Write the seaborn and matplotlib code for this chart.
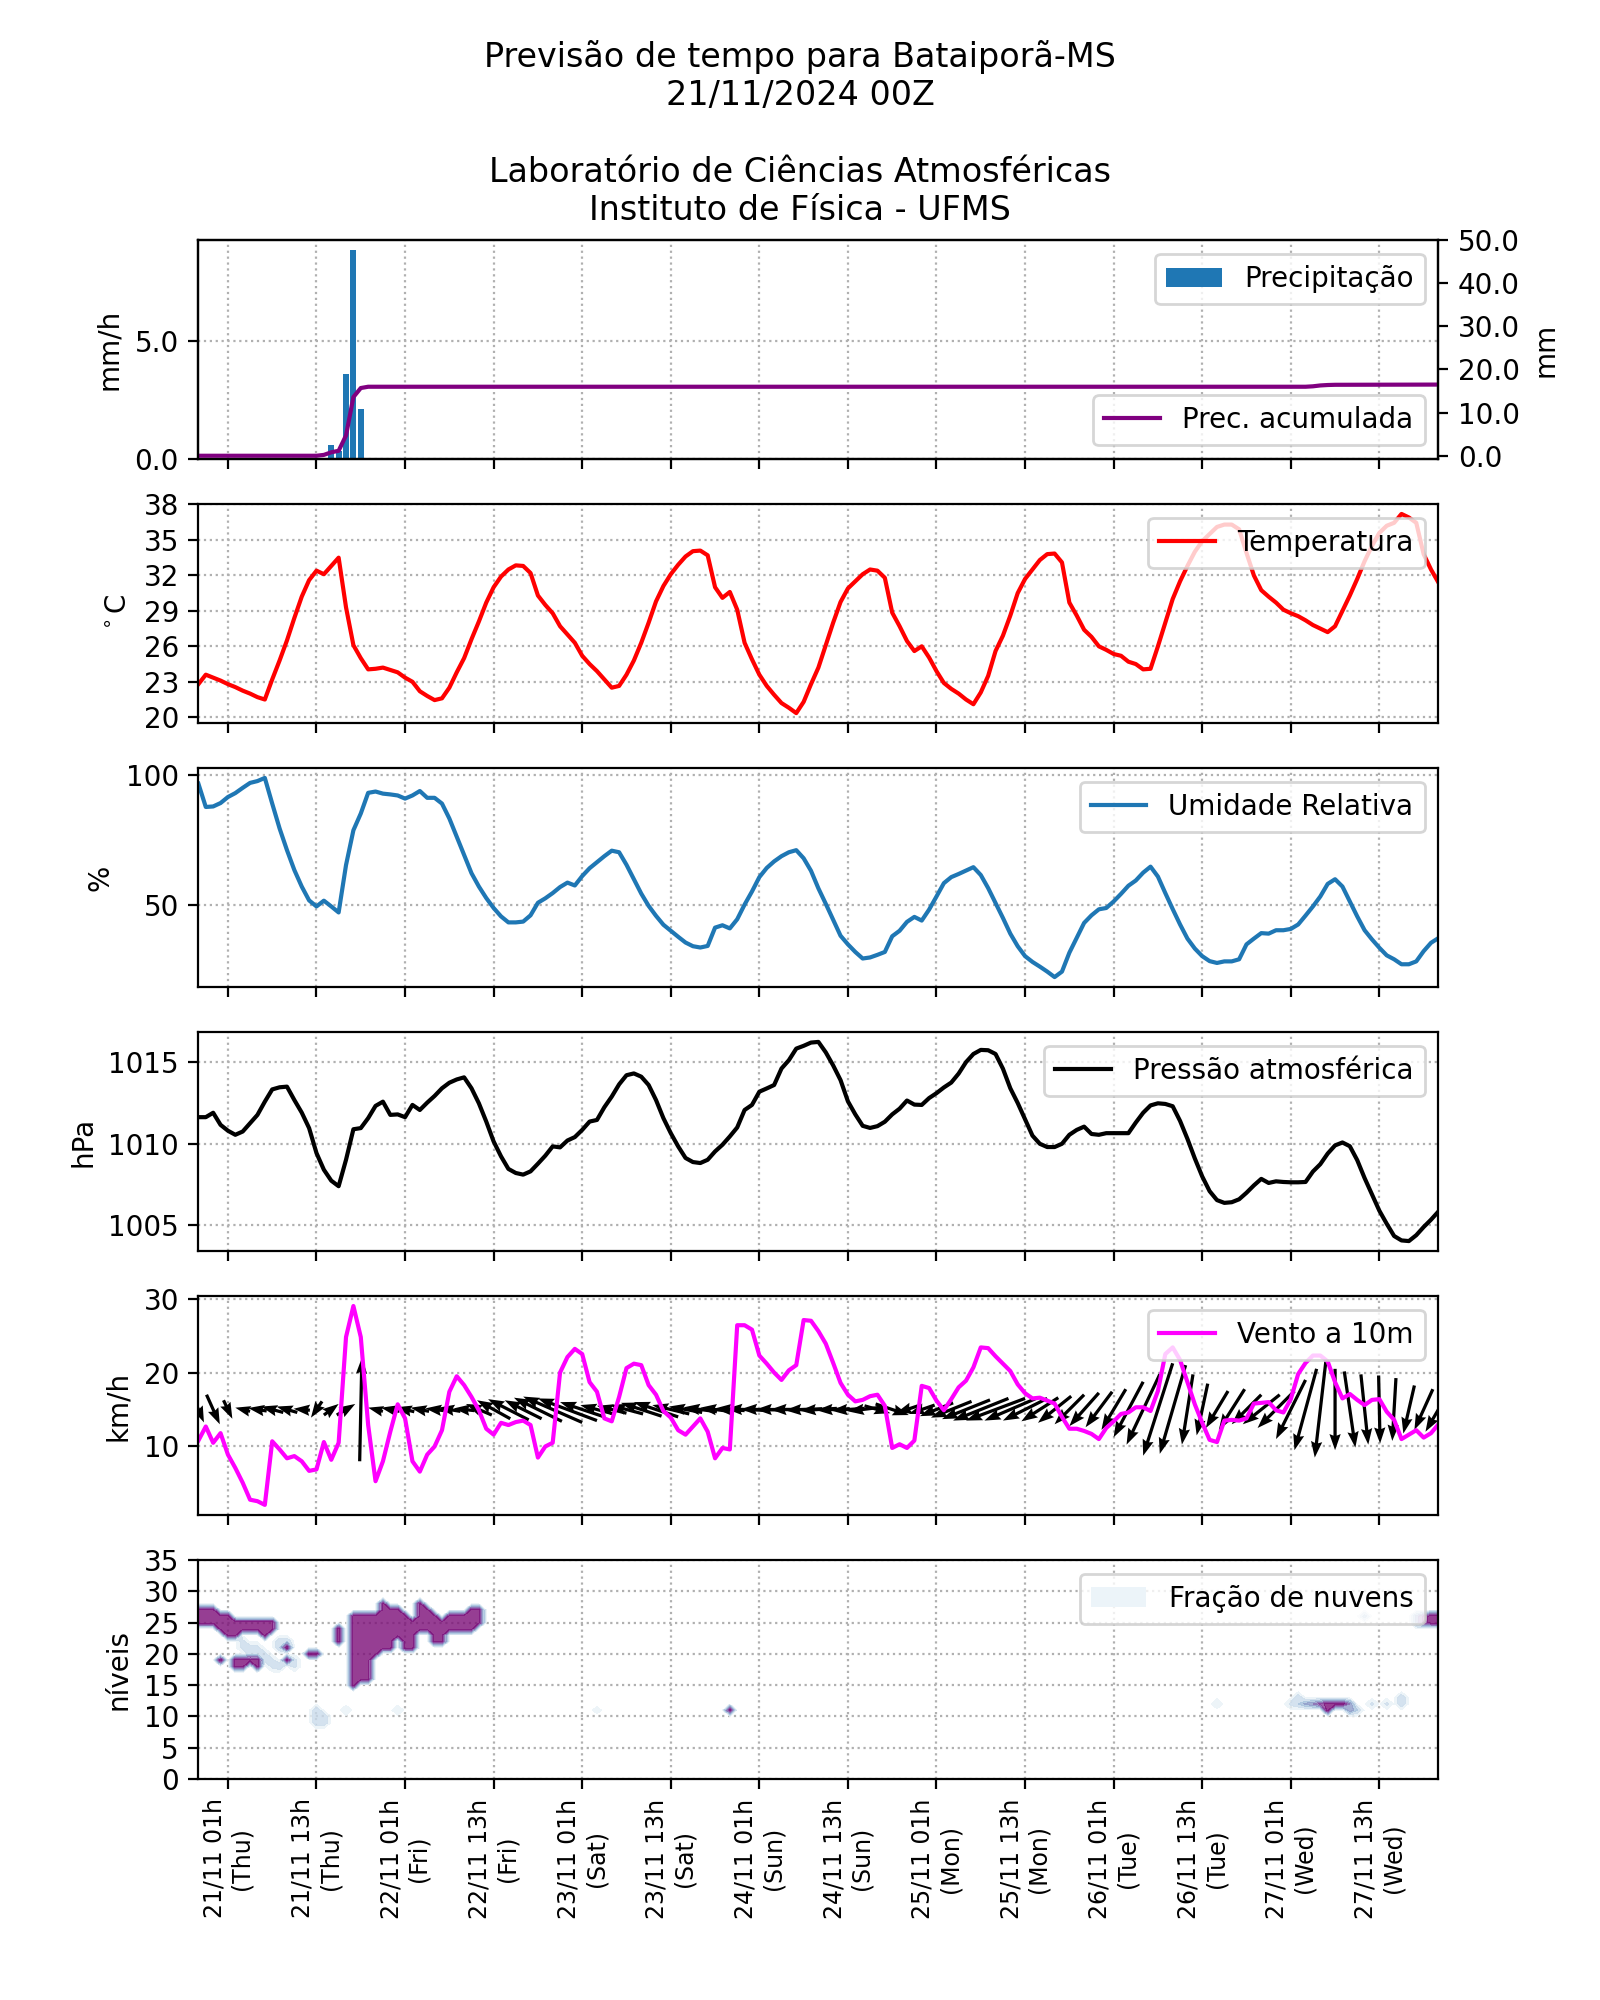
import numpy as np
import matplotlib
matplotlib.use("Agg")
import matplotlib.pyplot as plt
from matplotlib.ticker import MultipleLocator, FormatStrFormatter, FixedLocator
from matplotlib.patches import Patch
import seaborn as sns

# ---------------- data (hours since 20/11 21h local) ----------------
horas = np.arange(0, 169)

prec_horas = [17, 18, 19, 20, 21, 22]
prec_valores = [0.05, 0.6, 0.35, 3.6, 8.8, 2.1]

prec_acum_horas = [0, 16, 17, 18, 19, 20, 21, 22, 23, 150, 151, 152, 153, 154, 168]
prec_acum_valores = [0.0, 0.0, 0.2, 0.8, 1.15, 4.7, 13.6, 15.7, 16.0, 16.0, 16.1, 16.3, 16.4, 16.45, 16.5]

temperatura = [22.8, 23.6, 23.35, 23.1, 22.8, 22.55, 22.25, 22.0, 21.7, 21.5,
               23.2, 24.8, 26.5, 28.4, 30.2, 31.6, 32.4, 32.1, 32.8, 33.5,
               29.3, 26.1, 25.0, 24.05, 24.1, 24.2, 24.0, 23.8, 23.35, 23.0,
               22.2, 21.8, 21.45, 21.6, 22.5, 23.8, 25.0, 26.6, 28.1, 29.7,
               31.0, 31.9, 32.5, 32.85, 32.8, 32.2, 30.3, 29.5, 28.8, 27.7,
               27.0, 26.3, 25.2, 24.5, 23.9, 23.2, 22.5, 22.65, 23.6, 24.8,
               26.3, 28.0, 29.8, 31.1, 32.1, 32.9, 33.6, 34.05, 34.1, 33.7,
               31.0, 30.1, 30.6, 29.1, 26.3, 24.9, 23.6, 22.65, 21.9, 21.2,
               20.8, 20.35, 21.3, 22.8, 24.2, 26.1, 28.0, 29.75, 30.9, 31.5,
               32.1, 32.5, 32.4, 31.8, 28.85, 27.7, 26.45, 25.6, 26.0, 25.05,
               23.9, 22.9, 22.4, 22.0, 21.5, 21.1, 22.1, 23.5, 25.6, 26.9,
               28.6, 30.5, 31.7, 32.5, 33.3, 33.8, 33.85, 33.1, 29.7, 28.6,
               27.4, 26.8, 26.0, 25.7, 25.35, 25.2, 24.7, 24.5, 24.05, 24.1,
               26.0, 28.0, 30.0, 31.5, 32.8, 34.0, 34.9, 35.5, 36.1, 36.3,
               36.3, 35.9, 33.9, 32.0, 30.75, 30.2, 29.7, 29.1, 28.8, 28.55,
               28.2, 27.8, 27.5, 27.2, 27.7, 29.0, 30.3, 31.7, 33.2, 34.5,
               35.6, 36.2, 36.45, 37.2, 36.9, 36.45, 33.8, 32.5, 31.4]

umidade = [96.5, 87.6, 87.8, 89.1, 91.4, 92.9, 94.9, 96.8, 97.5, 98.7,
           88.9, 79.4, 71.1, 63.5, 57.2, 51.9, 49.6, 51.8, 49.6, 47.3,
           65.4, 78.7, 85.1, 93.0, 93.5, 92.7, 92.4, 92.0, 90.8, 92.0,
           93.7, 91.1, 91.1, 88.9, 83.2, 76.2, 69.2, 62.3, 57.2, 52.8,
           49.0, 45.8, 43.5, 43.5, 43.8, 46.2, 51.0, 52.7, 54.7, 57.0,
           58.7, 57.6, 61.2, 64.2, 66.5, 68.8, 70.9, 70.3, 65.5, 60.0,
           54.5, 49.8, 46.0, 42.6, 40.3, 38.0, 35.8, 34.4, 33.9, 34.5,
           41.5, 42.4, 41.2, 44.7, 50.3, 55.3, 60.8, 64.3, 66.8, 68.8,
           70.3, 71.1, 68.0, 63.2, 56.5, 50.6, 44.5, 38.4, 35.1, 32.2,
           29.7, 30.1, 31.1, 32.2, 38.2, 40.3, 43.7, 45.6, 44.2, 48.4,
           53.4, 58.5, 60.8, 62.0, 63.3, 64.6, 61.6, 56.6, 50.9, 45.2,
           39.2, 34.4, 30.6, 28.4, 26.6, 24.7, 22.6, 24.7, 31.9, 37.6,
           43.3, 46.2, 48.5, 49.0, 51.5, 54.4, 57.5, 59.5, 62.5, 64.8,
           61.0, 54.7, 48.6, 42.7, 37.3, 33.5, 30.6, 28.7, 28.0, 28.6,
           28.6, 29.4, 35.1, 37.3, 39.4, 39.2, 40.5, 40.5, 41.0, 42.7,
           46.1, 49.6, 53.4, 58.2, 60.0, 57.2, 51.5, 45.8, 40.5, 37.0,
           33.8, 30.9, 29.4, 27.5, 27.5, 28.6, 32.5, 35.7, 37.5]

pressao = [1011.63, 1011.63, 1011.9, 1011.16, 1010.8, 1010.55, 1010.75, 1011.26, 1011.77, 1012.58,
           1013.33, 1013.46, 1013.5, 1012.68, 1011.91, 1010.96, 1009.43, 1008.41, 1007.74, 1007.4,
           1009.02, 1010.89, 1010.96, 1011.57, 1012.32, 1012.58, 1011.77, 1011.8, 1011.63, 1012.38,
           1012.07, 1012.52, 1012.93, 1013.4, 1013.74, 1013.94, 1014.07, 1013.4, 1012.48, 1011.36,
           1010.14, 1009.23, 1008.46, 1008.21, 1008.11, 1008.31, 1008.78, 1009.27, 1009.84, 1009.78,
           1010.2, 1010.41, 1010.85, 1011.36, 1011.46, 1012.24, 1012.89, 1013.64, 1014.2, 1014.31,
           1014.11, 1013.6, 1012.68, 1011.57, 1010.65, 1009.84, 1009.13, 1008.88, 1008.82, 1009.02,
           1009.53, 1009.94, 1010.45, 1011.0, 1012.07, 1012.38, 1013.19, 1013.39, 1013.6, 1014.61,
           1015.12, 1015.83, 1016.0, 1016.2, 1016.24, 1015.6, 1014.8, 1013.9, 1012.6, 1011.8,
           1011.1, 1010.97, 1011.08, 1011.35, 1011.8, 1012.15, 1012.65, 1012.4, 1012.38, 1012.8,
           1013.1, 1013.45, 1013.75, 1014.3, 1015.0, 1015.5, 1015.75, 1015.73, 1015.5, 1014.6,
           1013.4, 1012.5, 1011.5, 1010.5, 1010.0, 1009.8, 1009.8, 1010.0, 1010.55, 1010.85,
           1011.05, 1010.6, 1010.55, 1010.65, 1010.65, 1010.65, 1010.65, 1011.3, 1011.9, 1012.35,
           1012.48, 1012.44, 1012.3, 1011.4, 1010.3, 1009.1, 1008.0, 1007.1, 1006.55, 1006.38,
           1006.42, 1006.6, 1007.0, 1007.45, 1007.85, 1007.6, 1007.7, 1007.66, 1007.64, 1007.64,
           1007.66, 1008.3, 1008.75, 1009.4, 1009.9, 1010.08, 1009.85, 1009.0, 1007.9, 1006.9,
           1005.9, 1005.1, 1004.35, 1004.08, 1004.04, 1004.4, 1004.9, 1005.35, 1005.85]

vento = [10.8, 12.7, 10.5, 11.8, 8.9, 7.1, 5.1, 2.8, 2.6, 2.1,
         10.7, 9.6, 8.4, 8.7, 8.0, 6.7, 6.9, 10.6, 8.2, 10.5,
         24.8, 29.0, 24.8, 12.9, 5.3, 8.0, 12.0, 15.7, 13.8, 8.0,
         6.6, 8.9, 10.0, 12.2, 17.4, 19.5, 18.3, 16.7, 14.9, 12.4,
         11.6, 13.2, 12.9, 13.3, 13.5, 12.9, 8.5, 10.0, 10.5, 20.0,
         22.1, 23.2, 22.5, 18.7, 17.4, 13.8, 13.4, 16.7, 20.6, 21.2,
         21.0, 18.3, 17.0, 14.8, 13.9, 12.2, 11.6, 12.7, 13.8, 12.0,
         8.4, 9.8, 9.6, 26.4, 26.4, 25.8, 22.3, 21.2, 20.0, 19.0,
         20.3, 21.0, 27.1, 27.0, 25.6, 23.9, 21.3, 18.6, 17.0, 16.1,
         16.3, 16.8, 17.0, 15.5, 9.8, 10.3, 9.8, 10.8, 18.2, 17.9,
         16.2, 14.9, 16.4, 18.0, 18.9, 20.7, 23.4, 23.3, 22.2, 21.2,
         20.2, 18.4, 17.2, 16.5, 16.6, 16.2, 15.8, 14.0, 12.4, 12.4,
         12.1, 11.7, 11.0, 12.5, 13.4, 14.4, 14.6, 15.3, 15.3, 14.8,
         17.5, 22.5, 23.4, 21.7, 18.7, 15.7, 13.2, 10.9, 10.6, 13.5,
         13.6, 13.5, 13.8, 15.8, 15.9, 16.0, 14.9, 14.6, 16.4, 19.8,
         21.3, 22.3, 22.3, 21.5, 18.7, 16.5, 17.1, 16.3, 15.6, 16.3,
         16.4, 14.7, 13.6, 11.0, 11.6, 12.2, 11.2, 11.8, 13.0]

vento_u = [1.5, 2.0, 1.8, 1.4, 1.2, -1.5, -2.0, -2.2, -2.5, -2.8,
           -3.0, -3.0, -2.8, -2.5, -2.2, -2.0, -1.5, -1.0, 2.0, 2.5,
           2.5, 1.5, 0.3, -0.3, -2.0, -2.5, -2.5, -2.5, -2.5, -2.0,
           -2.5, -2.5, -2.5, -2.8, -3.0, -3.0, -2.8, -2.5, -3.5, -4.0,
           -4.5, -5.0, -5.5, -6.0, -5.0, -6.0, -6.5, -7.0, -8.0, -9.0,
           -8.0, -7.0, -6.0, -5.0, -4.5, -4.0, -4.0, -4.0, -4.5, -5.0,
           -5.5, -6.0, -6.0, -5.5, -5.0, -5.0, -4.5, -4.5, -4.5, -4.0,
           -4.0, -4.0, -4.0, -4.5, -5.0, -5.0, -5.0, -5.0, -5.0, -5.0,
           -5.0, -5.0, -5.0, -5.0, -5.0, -4.8, -4.5, -4.5, -4.5, -4.5,
           -4.0, -4.0, 3.5, 4.0, 4.5, 4.0, -3.0, -3.0, -3.5, -4.0,
           -4.5, -5.0, -5.5, -6.0, -6.5, -7.0, -7.5, -8.0, -8.0, -7.5,
           -7.0, -6.5, -6.0, -5.5, -5.0, -4.5, -4.5, -4.5, -4.0, -4.0,
           -4.0, -3.8, -3.6, -3.5, -3.3, -3.5, -4.0, -4.5, -4.5, -4.5,
           -4.0, -4.0, -3.5, -2.5, -1.5, -1.0, -1.5, -2.5, -3.0, -3.5,
           -3.5, -3.5, -4.0, -4.5, -5.0, -5.0, -5.0, -4.5, -4.0, -3.5,
           -3.0, -2.0, -1.5, -1.0, 0.0, 0.7, 1.5, 1.5, 1.0, 0.5,
           0.2, 0.0, -0.5, -1.0, -1.5, -2.0, -2.5, -3.0, -3.5]

vento_v = [-3.5, -4.5, -4.0, -3.0, -2.5, 0.8, 0.5, 0.3, 0.4, 0.6,
           0.8, 1.0, 0.8, 0.5, 0.2, 0.0, -2.2, -1.5, 1.5, 2.0,
           1.5, 2.5, 14.0, -2.7, 0.5, 0.3, 0.5, 0.8, 0.6, 0.3,
           0.5, 0.3, 0.3, 0.4, 0.5, 0.5, 0.3, 0.2, 1.5, 2.0,
           2.5, 2.5, 2.8, 3.0, 2.5, 3.0, 3.2, 3.5, 3.5, 3.8,
           3.0, 2.5, 2.0, 1.5, 1.2, 1.0, 1.0, 1.0, 1.2, 1.5,
           1.8, 2.0, 2.0, 1.5, 1.2, 1.0, 0.8, 0.8, 0.6, 0.5,
           0.5, 0.4, 0.3, 0.2, 0.2, 0.2, 0.1, 0.1, 0.0, 0.0,
           0.0, 0.0, -0.2, -0.3, -0.3, -0.2, -0.2, -0.2, -0.3, -0.5,
           -0.5, -0.8, -1.0, -1.2, -1.5, -1.5, -1.0, -1.0, -1.2, -1.5,
           -1.8, -2.0, -2.2, -2.4, -2.6, -2.8, -3.0, -3.0, -3.0, -3.0,
           -3.0, -3.0, -3.0, -3.0, -3.2, -3.4, -3.6, -3.8, -4.0, -4.2,
           -4.5, -4.6, -4.8, -5.0, -5.5, -6.5, -7.5, -8.5, -9.5, -11.0,
           -12.5, -13.5, -12.0, -10.5, -9.5, -8.5, -7.0, -6.0, -5.0, -5.5,
           -5.5, -5.0, -4.0, -4.0, -4.0, -4.5, -5.0, -6.0, -8.0, -10.0,
           -11.0, -12.0, -13.0, -13.0, -11.0, -10.5, -10.3, -10.0, -9.5, -9.2,
           -9.2, -9.0, -8.5, -8.0, -6.5, -5.8, -5.5, -5.5, -6.0]

# cloud fraction: (hour, lowest level, highest level, fraction)
nuvem_hora = [0, 1, 2, 3, 4, 5, 6, 7, 8, 9, 10,
              3, 5, 6, 7, 8, 12, 12, 15, 16,
              6, 7, 8, 9, 10, 11, 11, 12, 13,
              16, 17, 20, 27, 54, 72,
              19, 21, 22, 23, 24, 25, 26, 27, 28, 29,
              30, 31, 32, 33, 34, 35, 36, 37, 38,
              138, 148, 149, 150, 151, 152, 153, 154, 155, 156, 157, 159, 161, 163,
              158, 165, 166, 167, 168]
nuvem_nivel_ini = [25, 25, 25, 24, 23, 23, 24, 24, 24, 23, 24,
                   19, 18, 18, 19, 18, 21, 19, 20, 20,
                   21, 20, 20, 19, 18, 21, 18, 22, 18,
                   9, 9, 11, 11, 11, 11,
                   22, 15, 16, 16, 20, 21, 21, 23, 21, 21,
                   24, 24, 22, 22, 24, 24, 24, 24, 25,
                   12, 12, 12, 12, 12, 12, 11, 12, 12, 11, 11, 12, 12, 12,
                   26, 25, 25, 25, 25]
nuvem_nivel_fim = [27, 27, 27, 26, 26, 25, 25, 25, 25, 25, 25,
                   19, 19, 19, 19, 19, 21, 19, 20, 20,
                   22, 21, 21, 20, 19, 22, 18, 22, 19,
                   11, 10, 11, 11, 11, 11,
                   24, 26, 26, 26, 26, 28, 27, 27, 26, 25,
                   28, 27, 26, 25, 26, 26, 26, 27, 27,
                   12, 12, 13, 12, 12, 12, 12, 12, 12, 12, 11, 12, 12, 13,
                   26, 26, 26, 26, 26]
nuvem_frac = [1.0, 1.0, 1.0, 1.0, 1.0, 1.0, 1.0, 1.0, 1.0, 1.0, 1.0,
              1.0, 1.0, 1.0, 1.0, 1.0, 1.0, 1.0, 1.0, 1.0,
              0.2, 0.25, 0.2, 0.2, 0.2, 0.3, 0.3, 0.3, 0.2,
              0.3, 0.3, 0.1, 0.1, 0.05, 1.0,
              1.0, 1.0, 1.0, 1.0, 1.0, 1.0, 1.0, 1.0, 1.0, 1.0,
              1.0, 1.0, 1.0, 1.0, 1.0, 1.0, 1.0, 1.0, 1.0,
              0.1, 0.2, 0.3, 0.5, 0.6, 0.8, 1.0, 1.0, 1.0, 0.6, 0.3, 0.2, 0.2, 0.3,
              0.4, 0.5, 0.8, 1.0, 1.0]
niveis = np.arange(0, 36)

xticks_horas = [4, 16, 28, 40, 52, 64, 76, 88, 100, 112, 124, 136, 148, 160]
xticks_rotulos = ['21/11 01h\n(Thu)', '21/11 13h\n(Thu)', '22/11 01h\n(Fri)', '22/11 13h\n(Fri)',
                  '23/11 01h\n(Sat)', '23/11 13h\n(Sat)', '24/11 01h\n(Sun)', '24/11 13h\n(Sun)',
                  '25/11 01h\n(Mon)', '25/11 13h\n(Mon)', '26/11 01h\n(Tue)', '26/11 13h\n(Tue)',
                  '27/11 01h\n(Wed)', '27/11 13h\n(Wed)']

titulo = ("Previsão de tempo para Bataiporã-MS\n21/11/2024 00Z\n\n"
          "Laboratório de Ciências Atmosféricas\nInstituto de Física - UFMS")

# ---------------- figure ----------------
plt.rcParams['font.family'] = ['DejaVu Sans']
fig, axes = plt.subplots(6, 1, figsize=(8, 10), dpi=200, sharex=True)
fig.subplots_adjust(left=0.124, right=0.899, top=0.88, bottom=0.1105, hspace=0.205)
fig.suptitle(titulo, fontsize=12, y=0.980, va='top')

grid_kw = dict(linestyle=':', color='#b0b0b0', linewidth=0.8)

# panel 1: precipitation
ax = axes[0]
ax.bar(prec_horas, prec_valores, width=0.8, color='#1f77b4', label='Precipitação')
ax.set_ylabel('mm/h')
ax.yaxis.set_major_locator(MultipleLocator(5))
ax.yaxis.set_major_formatter(FormatStrFormatter('%.1f'))
ax.grid(True, **grid_kw)
ax.legend(loc='upper right')
ax2 = ax.twinx()
sns.lineplot(x=prec_acum_horas, y=prec_acum_valores, ax=ax2, color='purple',
             linewidth=1.5, label='Prec. acumulada')
ax2.set_ylim(-0.77, 50.02)
ax2.yaxis.set_major_locator(FixedLocator([0, 10, 20, 30, 40, 50]))
ax2.yaxis.set_major_formatter(FormatStrFormatter('%.1f'))
ax2.set_ylabel('mm')
ax2.legend(loc='lower right')

# panel 2: temperature
ax = axes[1]
sns.lineplot(x=horas, y=temperatura, ax=ax, color='red', linewidth=1.5, label='Temperatura')
ax.set_yticks([20, 23, 26, 29, 32, 35, 38])
ax.set_ylabel(r'$^\circ$C')
ax.grid(True, **grid_kw)
ax.legend(loc='upper right')

# panel 3: humidity
ax = axes[2]
sns.lineplot(x=horas, y=umidade, ax=ax, color='#1f77b4', linewidth=1.5, label='Umidade Relativa')
ax.yaxis.set_major_locator(MultipleLocator(50))
ax.set_ylabel('%')
ax.grid(True, **grid_kw)
ax.legend(loc='upper right')

# panel 4: pressure
ax = axes[3]
sns.lineplot(x=horas, y=pressao, ax=ax, color='black', linewidth=1.5, label='Pressão atmosférica')
ax.yaxis.set_major_locator(MultipleLocator(5))
ax.set_ylabel('hPa')
ax.grid(True, **grid_kw)
ax.legend(loc='upper right')

# panel 5: wind (arrows every 2 hours)
ax = axes[4]
sns.lineplot(x=horas, y=vento, ax=ax, color='magenta', linewidth=1.5, label='Vento a 10m')
hq = horas[::2]
ax.quiver(hq, np.full(len(hq), 15.0), vento_u[::2], vento_v[::2], angles='xy', scale_units='xy',
          scale=1, pivot='middle', width=0.0026, headwidth=3.5, headlength=5,
          headaxislength=4.5, color='black')
ax.yaxis.set_major_locator(MultipleLocator(10))
ax.set_ylim(0.73, 30.36)
ax.set_ylabel('km/h')
ax.grid(True, **grid_kw)
ax.legend(loc='upper right')

# panel 6: cloud fraction
ax = axes[5]
Z = np.zeros((len(niveis), len(horas)))
for h, lo, hi, f in zip(nuvem_hora, nuvem_nivel_ini, nuvem_nivel_fim, nuvem_frac):
    Z[lo:hi + 1, h] = f
cmap = plt.get_cmap('BuPu')
ax.contourf(horas, niveis, Z, levels=[0.02, 0.15, 0.3, 0.45, 0.6, 0.75, 0.9, 1.01],
            cmap=cmap, vmin=0.0, vmax=1.08, alpha=0.8)
ax.set_ylim(0, 35)
ax.yaxis.set_major_locator(MultipleLocator(5))
ax.set_ylabel('níveis')
ax.grid(True, **grid_kw)
ax.legend(handles=[Patch(facecolor=cmap(0.06), label='Fração de nuvens')], loc='upper right')

for a in axes:
    a.set_xlim(0, 168)
    a.set_xticks(xticks_horas)
    a.tick_params(axis='y', labelsize=10)
    a.set_axisbelow(True)
axes[5].set_xticklabels(xticks_rotulos, rotation=90, fontsize=8.5)

fig.savefig('out.png', dpi=200)
